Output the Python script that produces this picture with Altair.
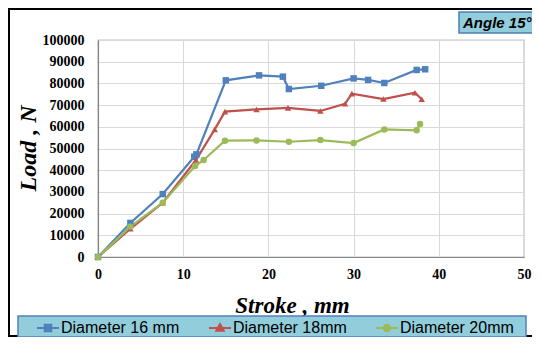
import altair as alt
import pandas as pd

series_names = ["Diameter 16 mm", "Diameter 18mm", "Diameter 20mm"]
series_colors = ["#4f81bd", "#c0504d", "#9bbb59"]
series_shapes = ["square", "triangle-up", "circle"]

d16_x = [0, 3.8, 7.6, 11.3, 11.55, 15.0, 18.9, 21.7, 22.4, 26.2, 30.0, 31.7, 33.6, 37.4, 38.4]
d16_y = [0, 15700, 29000, 46200, 47300, 81400, 83700, 83100, 77400, 78900, 82300, 81600, 80200, 86200, 86500]
d18_x = [0, 3.8, 7.6, 11.5, 13.7, 14.9, 18.6, 22.3, 26.1, 29.0, 29.8, 33.5, 37.2, 38.0]
d18_y = [0, 13000, 25000, 44700, 58800, 67000, 68000, 68700, 67300, 70600, 75300, 72800, 75700, 72700]
d20_x = [0, 3.8, 7.6, 11.4, 12.4, 14.9, 18.6, 22.4, 26.1, 30.0, 33.6, 37.4, 37.8]
d20_y = [0, 14000, 25000, 41900, 44700, 53600, 53700, 53100, 53900, 52500, 58800, 58400, 61300]

x_ticks = [0, 10, 20, 30, 40, 50]
y_ticks = [0, 10000, 20000, 30000, 40000, 50000, 60000, 70000, 80000, 90000, 100000]

rows = []
for name, xs, ys in zip(series_names, [d16_x, d18_x, d20_x], [d16_y, d18_y, d20_y]):
    for i, (xv, yv) in enumerate(zip(xs, ys)):
        rows.append({"series": name, "stroke": xv, "load": yv, "order": i})
df = pd.DataFrame(rows)
legend_df = pd.DataFrame({"series": series_names})

legend_paths = [
    "M-1,0H1M-0.3,-0.3H0.3V0.3H-0.3Z",
    "M-1,0H1M0,-0.36L0.34,0.26H-0.34Z",
    "M-1,0H1M0.3,0A0.3,0.3 0 1 1 -0.3,0A0.3,0.3 0 1 1 0.3,0Z",
]

def make_legend():
    return alt.Legend(
        title=None,
        orient="none",
        legendX=-62,
        legendY=276,
        direction="horizontal",
        labelFont="Liberation Sans",
        labelFontSize=16,
        labelColor="#000000",
        labelOffset=1,
        columnPadding=25,
        symbolSize=484,
        symbolStrokeWidth=2,
        symbolOpacity=1,
        padding=0,
    )

color_scale = alt.Scale(domain=series_names, range=series_colors)

x_axis = alt.Axis(values=x_ticks, title="Stroke , mm", format="d", labelFlush=False,
                  titleX=194, titleY=55, titleBaseline="alphabetic", titleAlign="center")
y_axis = alt.Axis(values=y_ticks, title="Load , N", format="d", labelOverlap=False, labelFlush=False,
                  titleX=-63, titleY=108, titleAngle=270, titleBaseline="alphabetic",
                  titleAlign="center")

def xenc():
    return alt.X("stroke:Q", scale=alt.Scale(domain=[0, 50], nice=False), axis=x_axis)

def yenc():
    return alt.Y("load:Q", scale=alt.Scale(domain=[0, 100000], nice=False), axis=y_axis)

lines = alt.Chart(df).mark_line(strokeWidth=2.2).encode(
    x=xenc(), y=yenc(),
    color=alt.Color("series:N", scale=color_scale, legend=None),
    order="order:Q", detail="series:N")

points = alt.Chart(df).mark_point(filled=True, size=42, opacity=1).encode(
    x=xenc(), y=yenc(),
    color=alt.Color("series:N", scale=color_scale, legend=None),
    shape=alt.Shape("series:N", scale=alt.Scale(domain=series_names, range=series_shapes), legend=None))

legend_layer = alt.Chart(legend_df).mark_point(filled=False, opacity=0).encode(
    color=alt.Color("series:N", scale=color_scale, legend=make_legend()),
    fill=alt.Fill("series:N", scale=color_scale, legend=make_legend()),
    shape=alt.Shape("series:N", scale=alt.Scale(domain=series_names, range=legend_paths), legend=make_legend()),
)

one = pd.DataFrame({"k": [0]})

frame = alt.Chart(one).mark_rect(fill="white", fillOpacity=0, stroke="black", strokeWidth=2).encode(
    x=alt.value(-89), x2=alt.value(445), y=alt.value(-31), y2=alt.value(296))

angle_box = alt.Chart(one).mark_rect(fill="#92cddc", stroke="#4f7fae", strokeWidth=1.5).encode(
    x=alt.value(361), x2=alt.value(445), y=alt.value(-28), y2=alt.value(-7))
angle_text = alt.Chart(one).mark_text(
    font="Liberation Sans", fontSize=15, fontWeight="bold", fontStyle="italic",
    align="left", baseline="middle", color="black").encode(
    x=alt.value(365), y=alt.value(-17), text=alt.value("Angle 15°"))

legend_box = alt.Chart(one).mark_rect(fill="#92cddc", stroke="#4f81bd", strokeWidth=1.5).encode(
    x=alt.value(-80), x2=alt.value(428), y=alt.value(276), y2=alt.value(297))

chart = alt.layer(frame, angle_box, angle_text, legend_box, lines, points, legend_layer).resolve_scale(
    color="independent", shape="independent", fill="independent"
).properties(
    width=426, height=217,
    autosize=alt.AutoSizeParams(type="none"),
    padding={"left": 90, "top": 32, "right": 8, "bottom": 80},
).configure_view(stroke="#868686", strokeWidth=1.2).configure_axis(
    grid=True, gridColor="#d9d9d9", gridWidth=1,
    domainColor="#868686", domainWidth=1.2, ticks=False,
    labelFont="Liberation Serif", labelFontSize=14, labelFontWeight="bold", labelColor="black",
    titleFont="Liberation Serif", titleFontWeight="bold", titleFontStyle="italic", titleColor="black",
).configure_axisX(labelPadding=10, titleFontSize=23).configure_axisY(labelPadding=14, titleFontSize=24)

chart.save("out.html", embed_options={"renderer": "svg", "actions": False})
